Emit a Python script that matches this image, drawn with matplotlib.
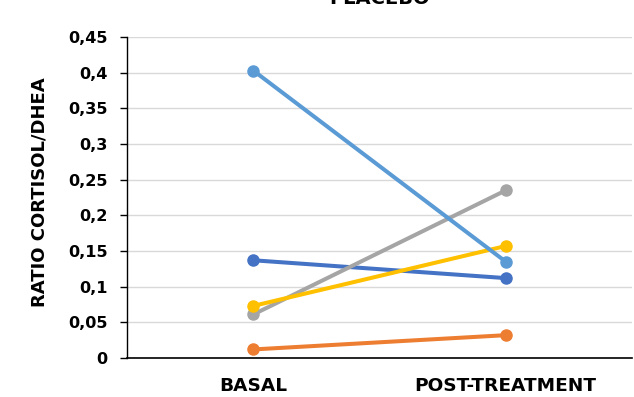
import matplotlib
matplotlib.use("Agg")
import matplotlib.pyplot as plt
from matplotlib.ticker import FuncFormatter

categories = ["BASAL", "POST-TREATMENT"]
series_values = [
    [0.137, 0.112],
    [0.012, 0.032],
    [0.061, 0.235],
    [0.073, 0.157],
    [0.403, 0.135],
]
series_colors = ["#4472C4", "#ED7D31", "#A5A5A5", "#FFC000", "#5B9BD5"]
y_ticks = [0, 0.05, 0.1, 0.15, 0.2, 0.25, 0.3, 0.35, 0.4, 0.45]

plt.rcParams["font.family"] = ["DejaVu Sans"]
plt.rcParams["font.weight"] = "bold"

W, H = 634, 397
fig = plt.figure(figsize=(W / 100, H / 100), dpi=100)
ax = fig.add_axes([127 / W, 1 - 358 / H, (632 - 127) / W, (358 - 37) / H])

x = list(range(len(categories)))
for vals, col in zip(series_values, series_colors):
    ax.plot(x, vals, color=col, lw=2.9, marker="o", ms=8, solid_capstyle="round")

ax.set_xlim(-0.5, len(categories) - 0.5)
ax.set_ylim(0, 0.45)
ax.set_yticks(y_ticks)


def comma_fmt(v, pos):
    s = f"{v:.2f}".rstrip("0").rstrip(".")
    return s.replace(".", ",")


ax.yaxis.set_major_formatter(FuncFormatter(comma_fmt))
ax.set_xticks(x)
ax.set_xticklabels(categories, fontsize=13.3, fontweight="bold")
ax.tick_params(axis="x", length=0, pad=14)
ax.tick_params(axis="y", length=5, width=1, direction="out", labelsize=11.6, pad=9)
for lab in ax.get_yticklabels():
    lab.set_fontweight("bold")

ax.yaxis.grid(True, color="#D9D9D9", lw=1)
ax.set_axisbelow(True)
for s in ["top", "right"]:
    ax.spines[s].set_visible(False)
ax.spines["left"].set_color("black")
ax.spines["bottom"].set_color("black")
ax.spines["left"].set_linewidth(1)
ax.spines["bottom"].set_linewidth(1.2)

fig.text(40 / W, 1 - 192 / H, "RATIO CORTISOL/DHEA", rotation=90,
         ha="center", va="center", fontsize=13, fontweight="bold")

fig.text(380 / W, 1 - 4 / H, "PLACEBO", ha="center", va="baseline",
         fontsize=14, fontweight="bold")

fig.savefig("out.png", dpi=100)
